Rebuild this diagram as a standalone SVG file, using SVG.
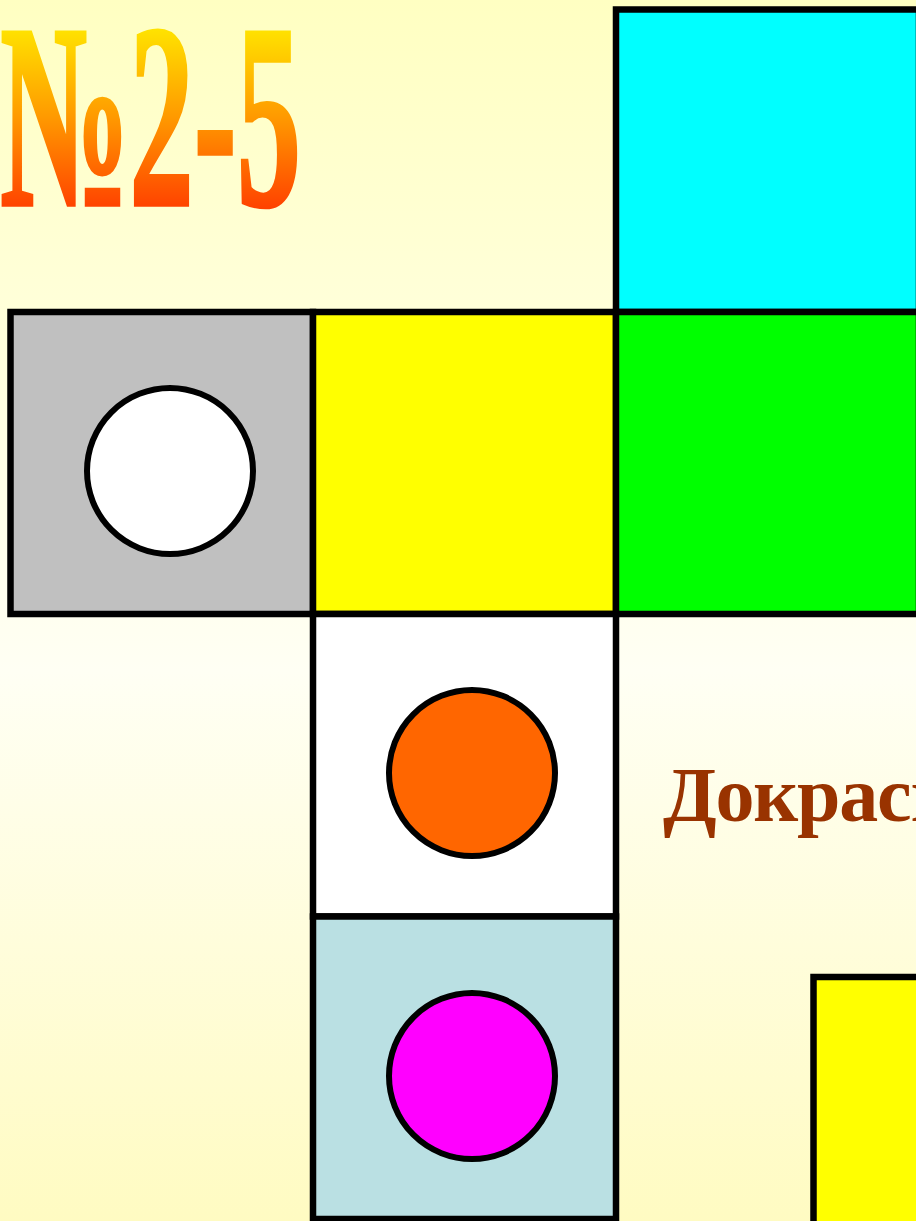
<svg xmlns="http://www.w3.org/2000/svg" width="916" height="1221" viewBox="0 0 916 1221">
  <defs>
    <linearGradient id="bg" x1="0" y1="0" x2="0" y2="1">
      <stop offset="0" stop-color="#FFFFC2"/>
      <stop offset="0.55" stop-color="#FFFFF4"/>
      <stop offset="1" stop-color="#FFFBC2"/>
    </linearGradient>
    <linearGradient id="titleGrad" gradientUnits="userSpaceOnUse" x1="0" y1="25" x2="0" y2="208">
      <stop offset="0" stop-color="#FFE600"/>
      <stop offset="0.5" stop-color="#FF9A00"/>
      <stop offset="1" stop-color="#FF4200"/>
    </linearGradient>
    <style>
      .cell { stroke: #000; stroke-width: 6.5; }
      .dot { stroke: #000; stroke-width: 6; }
      .title { font-family: "Liberation Serif", "Times New Roman", serif; font-weight: bold; font-size: 264px; fill: url(#titleGrad); stroke: url(#titleGrad); stroke-width: 3.5; stroke-linejoin: miter; }
      .label { font-family: "Liberation Serif", "Times New Roman", serif; font-weight: bold; font-size: 78px; letter-spacing: -1.2px; fill: #993300; }
    </style>
  </defs>

  <rect x="0" y="0" width="916" height="1221" fill="url(#bg)"/>

  <g id="title">
    <text class="title" x="0" y="205" textLength="301" lengthAdjust="spacingAndGlyphs">№2-5</text>
  </g>

  <g id="cell-cyan">
    <rect class="cell" x="616" y="9.5" width="303" height="302.5" fill="#00FFFF"/>
  </g>
  <g id="cell-grey">
    <rect class="cell" x="10.5" y="312" width="302.5" height="302" fill="#C0C0C0"/>
    <circle class="dot" cx="170" cy="471" r="83" fill="#FFFFFF"/>
  </g>
  <g id="cell-yellow">
    <rect class="cell" x="313" y="312" width="303" height="302" fill="#FFFF00"/>
  </g>
  <g id="cell-green">
    <rect class="cell" x="616" y="312" width="303" height="302" fill="#00FF00"/>
  </g>
  <g id="cell-white">
    <rect class="cell" x="313" y="614" width="303" height="302.5" fill="#FFFFFF"/>
    <circle class="dot" cx="472" cy="773" r="83" fill="#FF6600"/>
  </g>
  <g id="cell-lightblue">
    <rect class="cell" x="313" y="916.5" width="303" height="302.5" fill="#BAE0E3"/>
    <circle class="dot" cx="472" cy="1076" r="83" fill="#FF00FF"/>
  </g>
  <g id="cell-yellow-2">
    <rect class="cell" x="813.5" y="977" width="250" height="300" fill="#FFFF00"/>
  </g>

  <g id="label">
    <text class="label" x="663" y="821">Докрасьте</text>
  </g>
</svg>
